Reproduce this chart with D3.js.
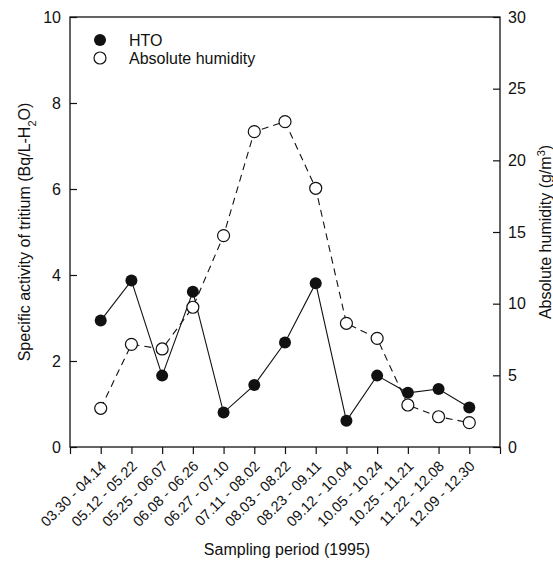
<!DOCTYPE html>
<html>
<head>
<meta charset="utf-8">
<script src="https://cdn.jsdelivr.net/npm/d3@7"></script>
<style>
body { margin: 0; background: #fff; }
text { font-family: "Liberation Sans", Arial, sans-serif; fill: #111; }
</style>
</head>
<body>
<div id="chart"></div>
<script>
// sampling periods (1995)
var periods = ["03.30 - 04.14", "05.12 - 05.22", "05.25 - 06.07", "06.08 - 06.26", "06.27 - 07.10",
  "07.11 - 08.02", "08.03 - 08.22", "08.23 - 09.11", "09.12 - 10.04", "10.05 - 10.24",
  "10.25 - 11.21", "11.22 - 12.08", "12.09 - 12.30"];
var hto = [2.94, 3.87, 1.66, 3.61, 0.80, 1.44, 2.43, 3.81, 0.61, 1.66, 1.26, 1.35, 0.92];
var humidity = [2.7, 7.16, 6.84, 9.75, 14.75, 22.0, 22.7, 18.05, 8.63, 7.58, 2.93, 2.11, 1.70];
var leftTicks = [0, 2, 4, 6, 8, 10];
var rightTicks = [0, 5, 10, 15, 20, 25, 30];

var W = 553, H = 562;
var pLeft = 70, pRight = 500, pTop = 17, pBottom = 447;

var svg = d3.select("#chart").append("svg").attr("width", W).attr("height", H);

var x = d3.scaleLinear().domain([0, periods.length + 1]).range([pLeft, pRight]);
var y = d3.scaleLinear().domain([0, 10]).range([pBottom, pTop]);
var y2 = d3.scaleLinear().domain([0, 30]).range([pBottom, pTop]);

// frame
svg.append("rect")
  .attr("x", pLeft).attr("y", pTop)
  .attr("width", pRight - pLeft).attr("height", pBottom - pTop)
  .attr("fill", "none").attr("stroke", "#111").attr("stroke-width", 1.3);

// x axis
var xAxis = svg.append("g")
  .attr("transform", "translate(0," + pBottom + ")")
  .call(d3.axisBottom(x)
    .tickValues(d3.range(0, periods.length + 2))
    .tickSize(7)
    .tickFormat(function(d) { return (d >= 1 && d <= periods.length) ? periods[d - 1] : ""; }));
xAxis.select(".domain").remove();
xAxis.selectAll("line").attr("stroke", "#111").attr("stroke-width", 1.2);
xAxis.selectAll("text")
  .attr("font-size", 14.5)
  .attr("text-anchor", "end")
  .attr("dy", null)
  .attr("y", 0)
  .attr("transform", "translate(6,20) rotate(-45)");

// left axis, ticks inward
var yAxis = svg.append("g")
  .attr("transform", "translate(" + pLeft + ",0)")
  .call(d3.axisRight(y).tickValues(leftTicks).tickSize(7).tickFormat(d3.format("d")));
yAxis.select(".domain").remove();
yAxis.selectAll("line").attr("stroke", "#111").attr("stroke-width", 1.2);
yAxis.selectAll("text")
  .attr("font-size", 16)
  .attr("text-anchor", "end")
  .attr("x", -9);

// right axis, ticks inward
var y2Axis = svg.append("g")
  .attr("transform", "translate(" + pRight + ",0)")
  .call(d3.axisLeft(y2).tickValues(rightTicks).tickSize(7).tickFormat(d3.format("d")));
y2Axis.select(".domain").remove();
y2Axis.selectAll("line").attr("stroke", "#111").attr("stroke-width", 1.2);
y2Axis.selectAll("text")
  .attr("font-size", 16)
  .attr("text-anchor", "start")
  .attr("x", 8);

// axis titles
var lt = svg.append("text")
  .attr("transform", "translate(30," + ((pTop + pBottom) / 2) + ") rotate(-90)")
  .attr("text-anchor", "middle")
  .attr("font-size", 16);
lt.append("tspan").text("Specific activity of tritium (Bq/L-H");
lt.append("tspan").attr("baseline-shift", "sub").attr("font-size", 11).text("2");
lt.append("tspan").text("O)");

var rt = svg.append("text")
  .attr("transform", "translate(551," + ((pTop + pBottom) / 2) + ") rotate(-90)")
  .attr("text-anchor", "middle")
  .attr("font-size", 16);
rt.append("tspan").text("Absolute humidity (g/m");
rt.append("tspan").attr("baseline-shift", "super").attr("font-size", 11).text("3");
rt.append("tspan").text(")");

svg.append("text")
  .attr("x", (pLeft + pRight) / 2 + 2).attr("y", 555)
  .attr("text-anchor", "middle")
  .attr("font-size", 16)
  .text("Sampling period (1995)");

// humidity line (dashed, open circles)
var idx = d3.range(periods.length);
var humLine = d3.line()
  .x(function(i) { return x(i + 1); })
  .y(function(i) { return y2(humidity[i]); });
svg.append("path")
  .attr("d", humLine(idx))
  .attr("fill", "none").attr("stroke", "#111").attr("stroke-width", 1.1)
  .attr("stroke-dasharray", "7,5");

// HTO line (solid, filled circles)
var htoLine = d3.line()
  .x(function(i) { return x(i + 1); })
  .y(function(i) { return y(hto[i]); });
svg.append("path")
  .attr("d", htoLine(idx))
  .attr("fill", "none").attr("stroke", "#111").attr("stroke-width", 1.1);

svg.append("g").selectAll("circle")
  .data(idx).enter().append("circle")
  .attr("cx", function(i) { return x(i + 1); })
  .attr("cy", function(i) { return y2(humidity[i]); })
  .attr("r", 6)
  .attr("fill", "#fff").attr("stroke", "#111").attr("stroke-width", 1.2);

svg.append("g").selectAll("circle")
  .data(idx).enter().append("circle")
  .attr("cx", function(i) { return x(i + 1); })
  .attr("cy", function(i) { return y(hto[i]); })
  .attr("r", 6)
  .attr("fill", "#111");

// legend
var legend = svg.append("g");
legend.append("circle").attr("cx", 100).attr("cy", 40).attr("r", 6).attr("fill", "#111");
legend.append("text").attr("x", 129).attr("y", 46).attr("font-size", 16).text("HTO");
legend.append("circle").attr("cx", 100).attr("cy", 58).attr("r", 6)
  .attr("fill", "#fff").attr("stroke", "#111").attr("stroke-width", 1.2);
legend.append("text").attr("x", 129).attr("y", 64).attr("font-size", 16).text("Absolute humidity");
</script>
</body>
</html>
